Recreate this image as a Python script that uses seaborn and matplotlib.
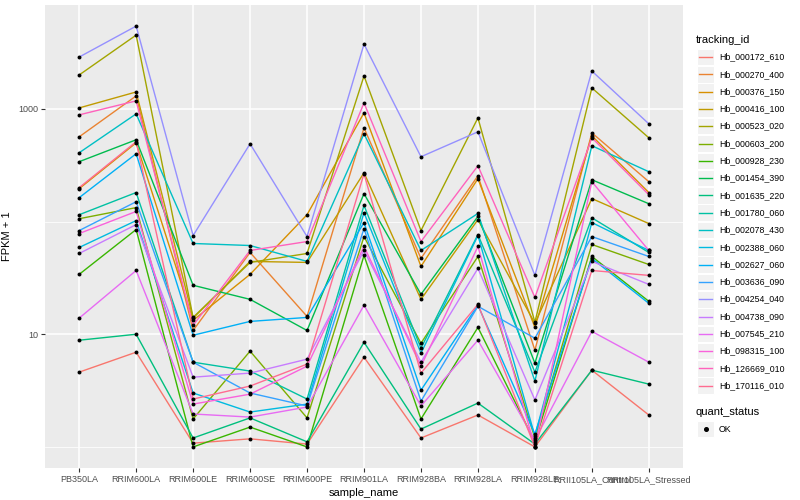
import pandas as pd
import matplotlib
matplotlib.use('Agg')
import matplotlib.pyplot as plt
import seaborn as sns
from matplotlib.ticker import FixedLocator, NullFormatter
from matplotlib.patches import Rectangle
from matplotlib.lines import Line2D

# sample order on the x axis
samples = ['PB350LA', 'RRIM600LA', 'RRIM600LE', 'RRIM600SE', 'RRIM600PE', 'RRIM901LA',
           'RRIM928BA', 'RRIM928LA', 'RRIM928LE', 'RRII105LA_Control', 'RRII105LA_Stressed']

# FPKM + 1 per gene
hb_000172_610 = [4.61, 6.93, 1.08, 1.18, 1.06, 6.26, 1.20, 1.92, 1.0, 4.80, 1.92]
hb_000270_400 = [565, 1303, 10.8, 53.2, 14.4, 679, 47.1, 255, 7.22, 613, 226]
hb_000376_150 = [196, 500, 13.3, 34.0, 115, 922, 40.0, 240, 11.5, 577, 181]
hb_000416_100 = [1020, 1413, 13.9, 44.3, 43.4, 271, 20.4, 104, 12.5, 160, 96]
hb_000523_020 = [2000, 4519, 14.1, 43.4, 52.1, 1959, 83.2, 832, 12.8, 1535, 554]
hb_000603_200 = [106, 133, 1.77, 7.08, 1.81, 73.6, 8.32, 49.0, 1.20, 62.6, 41.6]
hb_000928_230 = [34.0, 85.0, 1.0, 1.50, 1.0, 50.0, 1.77, 11.5, 1.11, 49.0, 19.6]
hb_001454_390 = [340, 532, 27.2, 20.4, 10.8, 177, 22.6, 111, 5.54, 235, 144]
hb_001635_220 = [8.85, 10.0, 1.20, 1.81, 1.11, 8.49, 1.44, 2.45, 1.06, 4.80, 3.61]
hb_001780_060 = [115, 181, 5.65, 4.71, 2.66, 139, 7.52, 76.7, 4.61, 108, 53.2]
hb_002078_430 = [408, 903, 63.9, 61.3, 44.3, 601, 55.4, 118, 3.84, 471, 277]
hb_002388_060 = [58.9, 102, 3.01, 2.04, 2.40, 120, 6.79, 75.2, 1.25, 98, 55.4]
hb_002627_060 = [163, 400, 9.80, 13.0, 14.1, 98, 3.19, 18.1, 1.30, 47.1, 18.8]
hb_003636_090 = [83.2, 150, 5.65, 3.01, 2.31, 86.7, 2.55, 17.7, 9.22, 73.6, 49.0]
hb_004254_040 = [2884, 5430, 75.2, 490, 73.6, 3758, 376, 626, 33.3, 2168, 737]
hb_004738_090 = [52.1, 94, 4.16, 4.52, 6.01, 55.4, 5.65, 38.4, 2.61, 44.3, 27.7]
hb_007545_210 = [13.9, 36.8, 1.96, 1.84, 2.26, 18.1, 2.31, 8.85, 1.15, 10.6, 5.65]
hb_098315_100 = [78.3, 123, 2.40, 2.94, 5.21, 60.1, 5.21, 60.1, 1.0, 226, 55.4]
hb_126669_010 = [885, 1178, 12.0, 55.4, 66.5, 1130, 66.5, 313, 21.2, 554, 173]
hb_170116_010 = [200, 511, 2.66, 3.47, 5.43, 266, 4.52, 18.4, 1.0, 36.8, 33.3]

series = {
    'Hb_000172_610': hb_000172_610, 'Hb_000270_400': hb_000270_400,
    'Hb_000376_150': hb_000376_150, 'Hb_000416_100': hb_000416_100,
    'Hb_000523_020': hb_000523_020, 'Hb_000603_200': hb_000603_200,
    'Hb_000928_230': hb_000928_230, 'Hb_001454_390': hb_001454_390,
    'Hb_001635_220': hb_001635_220, 'Hb_001780_060': hb_001780_060,
    'Hb_002078_430': hb_002078_430, 'Hb_002388_060': hb_002388_060,
    'Hb_002627_060': hb_002627_060, 'Hb_003636_090': hb_003636_090,
    'Hb_004254_040': hb_004254_040, 'Hb_004738_090': hb_004738_090,
    'Hb_007545_210': hb_007545_210, 'Hb_098315_100': hb_098315_100,
    'Hb_126669_010': hb_126669_010, 'Hb_170116_010': hb_170116_010,
}
ids = list(series.keys())

# ggplot default hue colours for 20 levels
colors = ['#F8766D', '#EA8331', '#D89000', '#C09B00', '#A3A500', '#7CAE00', '#39B600',
          '#00BB4E', '#00BF7D', '#00C1A3', '#00BFC4', '#00BAE0', '#00B0F6', '#35A2FF',
          '#9590FF', '#C77CFF', '#E76BF3', '#FA62DB', '#FF62BC', '#FF6C91']

rows = []
for tid in ids:
    for s, v in zip(samples, series[tid]):
        rows.append({'tracking_id': tid, 'sample_name': s, 'fpkm1': v, 'quant_status': 'OK'})
df = pd.DataFrame(rows)

plt.rcParams['font.family'] = ['Liberation Sans', 'DejaVu Sans']

fig = plt.figure(figsize=(8, 5), dpi=100)
ax = fig.add_axes([45 / 800, 1 - 468 / 500, (683 - 45) / 800, (468 - 5) / 500])
ax.set_yscale('log')

sns.lineplot(data=df, x='sample_name', y='fpkm1', hue='tracking_id', hue_order=ids,
             palette=dict(zip(ids, colors)), estimator=None, sort=False,
             linewidth=1.0, legend=False, ax=ax)
sns.scatterplot(data=df, x='sample_name', y='fpkm1', color='black', s=8,
                linewidth=0, legend=False, ax=ax, zorder=5)

ax.set_xlim(-0.6, len(samples) - 0.4)
ax.set_ylim(10 ** -0.187, 10 ** 3.922)
ax.set_facecolor('#EBEBEB')
for sp in ax.spines.values():
    sp.set_visible(False)
ax.yaxis.set_major_locator(FixedLocator([10, 1000]))
ax.yaxis.set_minor_locator(FixedLocator([1, 100]))
ax.yaxis.set_minor_formatter(NullFormatter())
ax.set_yticklabels(['10', '1000'])
ax.grid(which='major', color='white', linewidth=1.1)
ax.grid(which='minor', axis='y', color='white', linewidth=0.55)
ax.set_axisbelow(True)
ax.tick_params(which='major', length=3, width=0.8, color='#333333',
               labelsize=6.5, labelcolor='#4D4D4D', pad=2)
ax.tick_params(which='minor', length=0)
ax.set_xlabel('sample_name', fontsize=8, labelpad=3)
ax.set_ylabel('FPKM + 1', fontsize=8, labelpad=4)

# legend drawn in pixel coordinates
lax = fig.add_axes([0, 0, 1, 1])
lax.set_xlim(0, 800)
lax.set_ylim(500, 0)
lax.axis('off')
lax.text(696, 40, 'tracking_id', fontsize=8, va='center', ha='left')
for i, (tid, c) in enumerate(zip(ids, colors)):
    yc = 57 + 17.3 * i
    lax.add_patch(Rectangle((697, yc - 8.3), 17, 16.6, facecolor='#F2F2F2', edgecolor='white', lw=0.8))
    lax.add_line(Line2D([699, 712], [yc, yc], color=c, lw=1.0))
    lax.text(719, yc, tid, fontsize=6.3, va='center', ha='left')
lax.text(696, 412, 'quant_status', fontsize=8, va='center', ha='left')
lax.add_patch(Rectangle((697, 429 - 8.3), 17, 16.6, facecolor='#F2F2F2', edgecolor='white', lw=0.8))
lax.plot([705.5], [429], marker='o', color='black', markersize=2.6)
lax.text(719, 429, 'OK', fontsize=6.3, va='center', ha='left')

fig.savefig('out.png', dpi=100)
